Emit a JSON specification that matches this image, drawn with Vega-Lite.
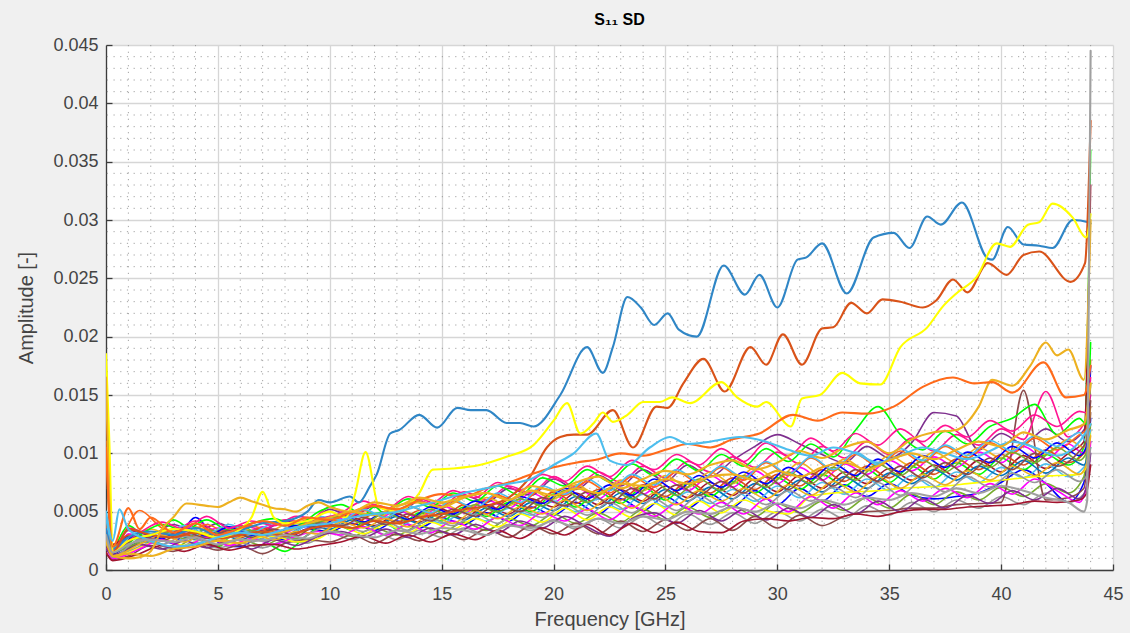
{
  "$schema": "https://vega.github.io/schema/vega-lite/v6.json",
  "width": 1007,
  "height": 525,
  "autosize": {"type": "none"},
  "padding": {"left": 106, "top": 45, "right": 17, "bottom": 63},
  "background": "#f0f0f0",
  "view": {"fill": "#ffffff", "stroke": null},
  "title": {"text": "S₁₁  SD", "font": "Liberation Sans", "fontSize": 16, "fontWeight": "bold", "color": "#000000", "anchor": "middle", "offset": 8, "dx": 10},
  "config": {
    "line": {"strokeCap": "round", "strokeJoin": "round"},
    "axis": {
      "grid": true, "gridColor": "#d6d6d6", "gridWidth": 1.3,
      "domainColor": "#3c3c3c", "domainWidth": 1.3,
      "tickColor": "#3c3c3c", "tickWidth": 1.3, "tickSize": -6,
      "labelFont": "Liberation Sans", "labelFontSize": 18, "labelColor": "#444444", "labelFlush": false,
      "titleFont": "Liberation Sans", "titleFontSize": 20, "titleFontWeight": "normal", "titleColor": "#444444"
    },
    "axisX": {"labelPadding": 21},
    "axisY": {"labelPadding": 14}
  },
  "datasets": {
    "minorFreq": [
      {"freq": 1}, {"freq": 2}, {"freq": 3}, {"freq": 4}, {"freq": 6}, {"freq": 7}, {"freq": 8}, {"freq": 9},
      {"freq": 11}, {"freq": 12}, {"freq": 13}, {"freq": 14}, {"freq": 16}, {"freq": 17}, {"freq": 18}, {"freq": 19},
      {"freq": 21}, {"freq": 22}, {"freq": 23}, {"freq": 24}, {"freq": 26}, {"freq": 27}, {"freq": 28}, {"freq": 29},
      {"freq": 31}, {"freq": 32}, {"freq": 33}, {"freq": 34}, {"freq": 36}, {"freq": 37}, {"freq": 38}, {"freq": 39},
      {"freq": 41}, {"freq": 42}, {"freq": 43}, {"freq": 44}
    ],
    "minorAmp": [
      {"amp": 0.001}, {"amp": 0.002}, {"amp": 0.003}, {"amp": 0.004}, {"amp": 0.006}, {"amp": 0.007}, {"amp": 0.008}, {"amp": 0.009},
      {"amp": 0.011}, {"amp": 0.012}, {"amp": 0.013}, {"amp": 0.014}, {"amp": 0.016}, {"amp": 0.017}, {"amp": 0.018}, {"amp": 0.019},
      {"amp": 0.021}, {"amp": 0.022}, {"amp": 0.023}, {"amp": 0.024}, {"amp": 0.026}, {"amp": 0.027}, {"amp": 0.028}, {"amp": 0.029},
      {"amp": 0.031}, {"amp": 0.032}, {"amp": 0.033}, {"amp": 0.034}, {"amp": 0.036}, {"amp": 0.037}, {"amp": 0.038}, {"amp": 0.039},
      {"amp": 0.041}, {"amp": 0.042}, {"amp": 0.043}, {"amp": 0.044}
    ],
    "bundle": [
      {"freq":0,"a":0.0022,"b":0.0183,"c":0.003,"d":0.0025,"e":0.002,"f":0.014,"g":0.0032,"h":0.0026,"i":0.0015,"j":0.003,"k":0.0025,"l":0.004,"m":0.011,"n":0.0036,"o":0.002,"p":0.0034,"q":0.003,"r":0.002,"s":0.0018,"t":0.0022,"u":0.0015,"v":0.0045,"w":0.0025,"x":0.0035,"y":0.0028,"z":0.002},
      {"freq":0.3,"a":0.0015,"b":0.002,"c":0.0012,"d":0.0018,"e":0.001,"f":0.0022,"g":0.0014,"h":0.0012,"i":0.0009,"j":0.0016,"k":0.0013,"l":0.0019,"m":0.0017,"n":0.0018,"o":0.0011,"p":0.0015,"q":0.0014,"r":0.001,"s":0.0013,"t":0.0016,"u":0.0008,"v":0.0019,"w":0.0011,"x":0.0017,"y":0.0012,"z":0.0015},
      {"freq":1,"a":0.002,"b":0.0038,"c":0.0031,"d":0.0034,"e":0.0018,"f":0.0029,"g":0.0021,"h":0.0016,"i":0.0012,"j":0.0036,"k":0.0026,"l":0.003,"m":0.0028},
      {"freq":1.5,"n":0.0051,"o":0.0019,"p":0.003,"q":0.0032,"r":0.0018,"s":0.0022,"t":0.0024,"u":0.0014,"v":0.0033,"w":0.0026,"x":0.0032,"y":0.0022,"z":0.0029},
      {"freq":2,"a":0.0028,"b":0.0024,"c":0.0027,"d":0.003,"e":0.0025,"f":0.0024,"g":0.003,"h":0.0023,"i":0.0021,"j":0.0031,"k":0.0035,"l":0.0025,"m":0.0024},
      {"freq":2.5,"n":0.0036,"o":0.0027,"p":0.0039,"q":0.0027,"r":0.0026,"s":0.0018,"t":0.0033,"u":0.0021,"v":0.0029,"w":0.0022,"x":0.0041,"y":0.003,"z":0.0025},
      {"freq":3,"a":0.0023,"b":0.0043,"c":0.0035,"d":0.0039,"e":0.0019,"f":0.0033,"g":0.0024,"h":0.0018,"i":0.0016,"j":0.0033,"k":0.0029,"l":0.0034,"m":0.0031},
      {"freq":3.5,"n":0.003,"o":0.0021,"p":0.0034,"q":0.0036,"r":0.002,"s":0.0025,"t":0.0027,"u":0.0016,"v":0.0038,"w":0.0029,"x":0.0035,"y":0.0024,"z":0.0033},
      {"freq":4,"a":0.0045,"b":0.003,"c":0.0029,"d":0.0032,"e":0.0027,"f":0.0027,"g":0.0031,"h":0.0024,"i":0.0022,"j":0.0042,"k":0.0037,"l":0.0028,"m":0.0026},
      {"freq":4.5,"n":0.0039,"o":0.0028,"p":0.0043,"q":0.0029,"r":0.0028,"s":0.0019,"t":0.0035,"u":0.0022,"v":0.0031,"w":0.0024,"x":0.0046,"y":0.0032,"z":0.0027},
      {"freq":5,"a":0.0024,"b":0.002,"c":0.0036,"d":0.004,"e":0.0021,"f":0.0033,"g":0.0025,"h":0.0019,"i":0.0017,"j":0.0033,"k":0.003,"l":0.0034,"m":0.0032},
      {"freq":5.5,"n":0.0031,"o":0.0022,"p":0.0034,"q":0.0037,"r":0.0021,"s":0.0025,"t":0.0028,"u":0.0017,"v":0.0039,"w":0.003,"x":0.0036,"y":0.0025,"z":0.0034},
      {"freq":6,"a":0.002,"b":0.0038,"c":0.003,"d":0.0033,"e":0.0026,"f":0.0028,"g":0.0031,"h":0.0023,"i":0.0021,"j":0.0038,"k":0.0036,"l":0.0029,"m":0.0026},
      {"freq":6.5,"n":0.0038,"o":0.0027,"p":0.004,"q":0.003,"r":0.0027,"s":0.0018,"t":0.0034,"u":0.0021,"v":0.0032,"w":0.0024,"x":0.0042,"y":0.0031,"z":0.0028},
      {"freq":7,"a":0.003,"b":0.0026,"c":0.0037,"d":0.0034,"e":0.0021,"f":0.0035,"g":0.0026,"h":0.0019,"i":0.0014,"j":0.0035,"k":0.0031,"l":0.0036,"m":0.0033},
      {"freq":7.5,"n":0.0032,"o":0.0029,"p":0.0044,"q":0.0031,"r":0.0022,"s":0.0026,"t":0.003,"u":0.0022,"v":0.004,"w":0.003,"x":0.0038,"y":0.0026,"z":0.0035},
      {"freq":8,"a":0.0026,"b":0.0016,"c":0.0032,"d":0.0042,"e":0.0028,"f":0.0029,"g":0.0033,"h":0.0025,"i":0.0023,"j":0.0043,"k":0.0039,"l":0.003,"m":0.0028},
      {"freq":8.5,"n":0.004,"o":0.0024,"p":0.0038,"q":0.0038,"r":0.0029,"s":0.0021,"t":0.0037,"u":0.0018,"v":0.0034,"w":0.0026,"x":0.0046,"y":0.0033,"z":0.0029},
      {"freq":9,"a":0.0035,"b":0.003,"c":0.0042,"d":0.004,"e":0.0026,"f":0.004,"g":0.0038,"h":0.0023,"i":0.0026,"j":0.0041,"k":0.0044,"l":0.0034,"m":0.0038},
      {"freq":9.5,"n":0.0045,"o":0.0027,"p":0.005,"q":0.0036,"r":0.0033,"s":0.0029,"t":0.0041,"u":0.0021,"v":0.0046,"w":0.0035,"x":0.0044,"y":0.0031,"z":0.004},
      {"freq":10,"a":0.0033,"b":0.0042,"c":0.004,"d":0.0052,"e":0.0035,"f":0.0037,"g":0.0042,"h":0.0032,"i":0.0024,"j":0.0054,"k":0.0041,"l":0.0046,"m":0.0035},
      {"freq":10.5,"n":0.0042,"o":0.0037,"p":0.0056,"q":0.0047,"r":0.003,"s":0.0033,"t":0.0046,"u":0.0024,"v":0.0043,"w":0.0039,"x":0.0049,"y":0.0041,"z":0.0038},
      {"freq":11,"a":0.004,"b":0.0034,"c":0.0048,"d":0.0046,"e":0.0029,"f":0.0045,"g":0.0035,"h":0.0026,"i":0.003,"j":0.0047,"k":0.005,"l":0.0039,"m":0.0043},
      {"freq":11.5,"n":0.0051,"o":0.0031,"p":0.0048,"q":0.0041,"r":0.0037,"s":0.0028,"t":0.004,"u":0.0029,"v":0.0052,"w":0.0033,"x":0.0059,"y":0.0036,"z":0.0045},
      {"freq":12,"a":0.0034,"b":0.0054,"c":0.0042,"d":0.0055,"e":0.0036,"f":0.0038,"g":0.0043,"h":0.0033,"i":0.0023,"j":0.0056,"k":0.0043,"l":0.0048,"m":0.0037},
      {"freq":12.5,"n":0.0045,"o":0.0039,"p":0.005,"q":0.005,"r":0.003,"s":0.0035,"t":0.0049,"u":0.0023,"v":0.0045,"w":0.0041,"x":0.0052,"y":0.0044,"z":0.0039},
      {"freq":13,"a":0.0042,"b":0.0035,"c":0.0051,"d":0.0048,"e":0.003,"f":0.0048,"g":0.0036,"h":0.0026,"i":0.0031,"j":0.005,"k":0.0053,"l":0.0041,"m":0.0046},
      {"freq":13.5,"n":0.0055,"o":0.0032,"p":0.0061,"q":0.0043,"r":0.0039,"s":0.0028,"t":0.0042,"u":0.003,"v":0.0055,"w":0.0034,"x":0.0063,"y":0.0037,"z":0.0048},
      {"freq":14,"a":0.0036,"b":0.0049,"c":0.0045,"d":0.0059,"e":0.0038,"f":0.0041,"g":0.0046,"h":0.0034,"i":0.0025,"j":0.0061,"k":0.0046,"l":0.0051,"m":0.004},
      {"freq":14.5,"n":0.0048,"o":0.0041,"p":0.0054,"q":0.0054,"r":0.0032,"s":0.0036,"t":0.0052,"u":0.0024,"v":0.0049,"w":0.0044,"x":0.0057,"y":0.0047,"z":0.0042},
      {"freq":15,"a":0.0045,"b":0.0042,"c":0.0055,"d":0.0053,"e":0.0032,"f":0.0052,"g":0.004,"h":0.0028,"i":0.0033,"j":0.0055,"k":0.0057,"l":0.0045,"m":0.0049},
      {"freq":15.5,"n":0.0059,"o":0.0035,"p":0.0066,"q":0.0048,"r":0.0042,"s":0.003,"t":0.0046,"u":0.0031,"v":0.006,"w":0.0038,"x":0.0068,"y":0.004,"z":0.0052},
      {"freq":16,"a":0.0039,"b":0.0054,"c":0.0049,"d":0.0064,"e":0.0041,"f":0.0044,"g":0.005,"h":0.0036,"i":0.0026,"j":0.0067,"k":0.005,"l":0.0056,"m":0.0043},
      {"freq":16.5,"n":0.0052,"o":0.0044,"p":0.0059,"q":0.0059,"r":0.0035,"s":0.0039,"t":0.0056,"u":0.0026,"v":0.0053,"w":0.0048,"x":0.0062,"y":0.0051,"z":0.0046},
      {"freq":17,"a":0.0049,"b":0.0046,"c":0.006,"d":0.0058,"e":0.0034,"f":0.0056,"g":0.0042,"h":0.003,"i":0.0035,"j":0.006,"k":0.0062,"l":0.0048,"m":0.0053},
      {"freq":17.5,"n":0.0064,"o":0.0037,"p":0.0072,"q":0.0052,"r":0.0045,"s":0.0032,"t":0.005,"u":0.0034,"v":0.0066,"w":0.004,"x":0.0075,"y":0.0044,"z":0.0057},
      {"freq":18,"a":0.0042,"b":0.0058,"c":0.0053,"d":0.007,"e":0.0044,"f":0.0048,"g":0.0053,"h":0.0039,"i":0.0028,"j":0.0072,"k":0.0055,"l":0.006,"m":0.0046},
      {"freq":18.5,"n":0.0057,"o":0.0048,"p":0.0064,"q":0.0063,"r":0.0038,"s":0.0042,"t":0.0061,"u":0.0027,"v":0.0058,"w":0.0051,"x":0.0068,"y":0.0054,"z":0.005},
      {"freq":19,"a":0.0054,"b":0.005,"c":0.0066,"d":0.0064,"e":0.0038,"f":0.0061,"g":0.0047,"h":0.0034,"i":0.0038,"j":0.0066,"k":0.0068,"l":0.0053,"m":0.0058},
      {"freq":19.5,"n":0.007,"o":0.0041,"p":0.0079,"q":0.0057,"r":0.0049,"s":0.0036,"t":0.0055,"u":0.0036,"v":0.0072,"w":0.0045,"x":0.0082,"y":0.0048,"z":0.0062},
      {"freq":20,"a":0.0047,"b":0.0065,"c":0.0058,"d":0.0078,"e":0.0048,"f":0.0054,"g":0.0059,"h":0.0043,"i":0.0031,"j":0.008,"k":0.0061,"l":0.0067,"m":0.0051},
      {"freq":20.5,"n":0.0064,"o":0.0053,"p":0.0072,"q":0.007,"r":0.0042,"s":0.0046,"t":0.0068,"u":0.003,"v":0.0065,"w":0.0056,"x":0.0076,"y":0.006,"z":0.0055},
      {"freq":21,"a":0.0058,"b":0.0054,"c":0.0071,"d":0.0069,"e":0.004,"f":0.0066,"g":0.005,"h":0.0035,"i":0.004,"j":0.0071,"k":0.0073,"l":0.0057,"m":0.0063},
      {"freq":21.5,"n":0.0076,"o":0.0043,"p":0.0086,"q":0.0061,"r":0.0052,"s":0.0037,"t":0.0058,"u":0.0039,"v":0.0078,"w":0.0047,"x":0.0089,"y":0.0051,"z":0.0067},
      {"freq":22,"a":0.0048,"b":0.0067,"c":0.0061,"d":0.0081,"e":0.0049,"f":0.0056,"g":0.0061,"h":0.0044,"i":0.0031,"j":0.0084,"k":0.0064,"l":0.0069,"m":0.0053},
      {"freq":22.5,"n":0.0066,"o":0.0054,"p":0.0076,"q":0.0073,"r":0.0043,"s":0.0029,"t":0.007,"u":0.003,"v":0.0068,"w":0.0058,"x":0.008,"y":0.0062,"z":0.0057},
      {"freq":23,"a":0.0061,"b":0.0057,"c":0.0075,"d":0.0072,"e":0.0041,"f":0.0069,"g":0.0052,"h":0.0036,"i":0.0042,"j":0.0075,"k":0.0077,"l":0.006,"m":0.0066},
      {"freq":23.5,"n":0.008,"o":0.0045,"p":0.0091,"q":0.0064,"r":0.0055,"s":0.0044,"t":0.0061,"u":0.004,"v":0.0082,"w":0.0049,"x":0.0094,"y":0.0053,"z":0.007},
      {"freq":24,"a":0.0051,"b":0.0071,"c":0.0065,"d":0.0086,"e":0.0052,"f":0.0059,"g":0.0065,"h":0.0046,"i":0.0033,"j":0.0089,"k":0.0068,"l":0.0073,"m":0.0057},
      {"freq":24.5,"n":0.0071,"o":0.0057,"p":0.0081,"q":0.0078,"r":0.0046,"s":0.0049,"t":0.0075,"u":0.0032,"v":0.0073,"w":0.0061,"x":0.0086,"y":0.0066,"z":0.0061},
      {"freq":25,"a":0.0063,"b":0.006,"c":0.0078,"d":0.0076,"e":0.0043,"f":0.0072,"g":0.0054,"h":0.0037,"i":0.0043,"j":0.0079,"k":0.0081,"l":0.0063,"m":0.0069},
      {"freq":25.5,"n":0.0084,"o":0.0047,"p":0.0095,"q":0.0068,"r":0.0057,"s":0.004,"t":0.0064,"u":0.0041,"v":0.0086,"w":0.0051,"x":0.0099,"y":0.0056,"z":0.0073},
      {"freq":26,"a":0.0053,"b":0.0074,"c":0.0068,"d":0.009,"e":0.0054,"f":0.0062,"g":0.0067,"h":0.0048,"i":0.0034,"j":0.0093,"k":0.0071,"l":0.0076,"m":0.0059},
      {"freq":26.5,"n":0.0075,"o":0.0059,"p":0.0085,"q":0.0081,"r":0.0048,"s":0.0051,"t":0.0078,"u":0.0033,"v":0.0076,"w":0.0064,"x":0.009,"y":0.0068,"z":0.0064},
      {"freq":27,"a":0.0065,"b":0.0063,"c":0.0081,"d":0.008,"e":0.0045,"f":0.0075,"g":0.0057,"h":0.0039,"i":0.0044,"j":0.0084,"k":0.0084,"l":0.0066,"m":0.0071},
      {"freq":27.5,"n":0.0088,"o":0.0049,"p":0.0099,"q":0.0071,"r":0.0058,"s":0.0042,"t":0.0068,"u":0.0032,"v":0.0089,"w":0.0054,"x":0.0104,"y":0.0059,"z":0.0076},
      {"freq":28,"a":0.0054,"b":0.0076,"c":0.0071,"d":0.0094,"e":0.0055,"f":0.0064,"g":0.0069,"h":0.0049,"i":0.0034,"j":0.0097,"k":0.0074,"l":0.0079,"m":0.0061},
      {"freq":28.5,"n":0.0077,"o":0.006,"p":0.0089,"q":0.0084,"r":0.0048,"s":0.0052,"t":0.0081,"u":0.0042,"v":0.0079,"w":0.0066,"x":0.0093,"y":0.007,"z":0.0066},
      {"freq":29,"a":0.0068,"b":0.0066,"c":0.0085,"d":0.0106,"e":0.0046,"f":0.0078,"g":0.0059,"h":0.004,"i":0.0046,"j":0.0088,"k":0.0088,"l":0.0069,"m":0.0074},
      {"freq":29.5,"n":0.0092,"o":0.0051,"p":0.0104,"q":0.0074,"r":0.0061,"s":0.0043,"t":0.0071,"u":0.0044,"v":0.0093,"w":0.0056,"x":0.0109,"y":0.0061,"z":0.008},
      {"freq":30,"a":0.0056,"b":0.0079,"c":0.0074,"d":0.0116,"e":0.0057,"f":0.0067,"g":0.0072,"h":0.005,"i":0.0036,"j":0.0101,"k":0.0078,"l":0.0082,"m":0.0064},
      {"freq":30.5,"n":0.0081,"o":0.0048,"p":0.0093,"q":0.0088,"r":0.005,"s":0.0053,"t":0.0084,"u":0.0042,"v":0.0082,"w":0.0068,"x":0.0098,"y":0.0073,"z":0.0069},
      {"freq":31,"a":0.007,"b":0.0069,"c":0.0088,"d":0.0108,"e":0.0049,"f":0.0081,"g":0.0062,"h":0.0042,"i":0.0047,"j":0.0091,"k":0.0092,"l":0.0072,"m":0.0077},
      {"freq":31.5,"n":0.0096,"o":0.0063,"p":0.0108,"q":0.0078,"r":0.0063,"s":0.0045,"t":0.0074,"u":0.0045,"v":0.0097,"w":0.0059,"x":0.0113,"y":0.0064,"z":0.0083},
      {"freq":32,"a":0.0059,"b":0.0082,"c":0.0077,"d":0.0099,"e":0.0059,"f":0.007,"g":0.0075,"h":0.0052,"i":0.0038,"j":0.0106,"k":0.0081,"l":0.0086,"m":0.0067},
      {"freq":32.5,"n":0.0085,"o":0.0066,"p":0.0097,"q":0.0091,"r":0.0053,"s":0.0056,"t":0.0088,"u":0.0044,"v":0.0086,"w":0.0071,"x":0.0102,"y":0.0076,"z":0.0072},
      {"freq":33,"a":0.0073,"b":0.0072,"c":0.0091,"d":0.0092,"e":0.0051,"f":0.0084,"g":0.0065,"h":0.0044,"i":0.0046,"j":0.0096,"k":0.0095,"l":0.0076,"m":0.008},
      {"freq":33.5,"n":0.0099,"o":0.0067,"p":0.012,"q":0.0081,"r":0.0066,"s":0.0048,"t":0.0077,"u":0.0048,"v":0.0101,"w":0.0062,"x":0.0117,"y":0.0067,"z":0.0086},
      {"freq":34,"a":0.0063,"b":0.0086,"c":0.0082,"d":0.0106,"e":0.0062,"f":0.0074,"g":0.0078,"h":0.0055,"i":0.005,"j":0.011,"k":0.0085,"l":0.0089,"m":0.007},
      {"freq":34.5,"n":0.0089,"o":0.0068,"p":0.014,"q":0.0095,"r":0.0056,"s":0.0059,"t":0.0091,"u":0.0046,"v":0.009,"w":0.0075,"x":0.0107,"y":0.008,"z":0.0076},
      {"freq":35,"a":0.0074,"b":0.0075,"c":0.0094,"d":0.0096,"e":0.0053,"f":0.0087,"g":0.0068,"h":0.0047,"i":0.0051,"j":0.0099,"k":0.0098,"l":0.0079,"m":0.0083},
      {"freq":35.5,"n":0.0102,"o":0.007,"p":0.0116,"q":0.0084,"r":0.0068,"s":0.005,"t":0.0081,"u":0.005,"v":0.0104,"w":0.0064,"x":0.0121,"y":0.007,"z":0.0089},
      {"freq":36,"a":0.0064,"b":0.0089,"c":0.0085,"d":0.0109,"e":0.0065,"f":0.0077,"g":0.0081,"h":0.0058,"i":0.0053,"j":0.0113,"k":0.0089,"l":0.0092,"m":0.0074},
      {"freq":36.5,"n":0.0092,"o":0.0071,"p":0.0103,"q":0.0098,"r":0.0059,"s":0.0061,"t":0.0094,"u":0.0052,"v":0.0094,"w":0.0077,"x":0.011,"y":0.0082,"z":0.0079},
      {"freq":37,"a":0.0061,"b":0.0078,"c":0.0097,"d":0.0135,"e":0.0056,"f":0.009,"g":0.0071,"h":0.005,"i":0.0053,"j":0.0102,"k":0.0101,"l":0.0082,"m":0.0086},
      {"freq":37.5,"n":0.0106,"o":0.0072,"p":0.0119,"q":0.0088,"r":0.007,"s":0.0053,"t":0.0084,"u":0.0052,"v":0.0107,"w":0.0067,"x":0.0124,"y":0.0073,"z":0.0092},
      {"freq":38,"a":0.0063,"b":0.0092,"c":0.0088,"d":0.0132,"e":0.0067,"f":0.008,"g":0.0084,"h":0.006,"i":0.0056,"j":0.0116,"k":0.0092,"l":0.0095,"m":0.0077},
      {"freq":38.5,"n":0.0096,"o":0.0074,"p":0.0108,"q":0.0101,"r":0.0062,"s":0.0064,"t":0.0096,"u":0.0054,"v":0.0098,"w":0.008,"x":0.0114,"y":0.0085,"z":0.0082},
      {"freq":39,"a":0.0066,"b":0.0082,"c":0.0101,"d":0.0103,"e":0.006,"f":0.0094,"g":0.0075,"h":0.0053,"i":0.0057,"j":0.0107,"k":0.0105,"l":0.0086,"m":0.0089},
      {"freq":39.5,"n":0.0109,"o":0.0076,"p":0.0123,"q":0.0092,"r":0.0074,"s":0.0057,"t":0.0088,"u":0.0055,"v":0.0111,"w":0.0071,"x":0.0128,"y":0.0077,"z":0.0096},
      {"freq":40,"a":0.0075,"b":0.0096,"c":0.0092,"d":0.0117,"e":0.0071,"f":0.0084,"g":0.0088,"h":0.0063,"i":0.0058,"j":0.0121,"k":0.0096,"l":0.0099,"m":0.0081},
      {"freq":40.5,"n":0.01,"o":0.0078,"p":0.013,"q":0.0106,"r":0.0065,"s":0.0068,"t":0.0101,"u":0.0056,"v":0.0102,"w":0.0083,"x":0.0119,"y":0.0089,"z":0.0086},
      {"freq":41,"a":0.0086,"b":0.0086,"c":0.0106,"d":0.0108,"e":0.0063,"f":0.0098,"g":0.0079,"h":0.0056,"i":0.0154,"j":0.0112,"k":0.0109,"l":0.009,"m":0.0094},
      {"freq":41.5,"n":0.0113,"o":0.008,"p":0.0142,"q":0.0096,"r":0.0078,"s":0.006,"t":0.0092,"u":0.0059,"v":0.0115,"w":0.0075,"x":0.0133,"y":0.0081,"z":0.01},
      {"freq":42,"a":0.0074,"b":0.0099,"c":0.0095,"d":0.0121,"e":0.0074,"f":0.0087,"g":0.0091,"h":0.0066,"i":0.006,"j":0.0153,"k":0.0099,"l":0.0103,"m":0.0083},
      {"freq":42.5,"n":0.0103,"o":0.0081,"p":0.0116,"q":0.0109,"r":0.0068,"s":0.007,"t":0.0105,"u":0.0058,"v":0.0106,"w":0.0086,"x":0.0123,"y":0.0092,"z":0.0089},
      {"freq":43,"a":0.0058,"b":0.009,"c":0.0108,"d":0.011,"e":0.0066,"f":0.01,"g":0.008,"h":0.0058,"i":0.0062,"j":0.0114,"k":0.0112,"l":0.0092,"m":0.0096},
      {"freq":43.5,"n":0.0116,"o":0.0082,"p":0.013,"q":0.0098,"r":0.0058,"s":0.0061,"t":0.0094,"u":0.006,"v":0.0118,"w":0.0076,"x":0.0136,"y":0.0082,"z":0.0102},
      {"freq":43.7,"a":0.0075,"b":0.0105,"c":0.01,"d":0.012,"e":0.008,"f":0.011,"g":0.0088,"h":0.0065,"i":0.007,"j":0.0125,"k":0.0105,"l":0.01,"m":0.009},
      {"freq":43.8,"n":0.012,"o":0.0088,"p":0.0125,"q":0.0105,"r":0.007,"s":0.007,"t":0.01,"u":0.0065,"v":0.011,"w":0.008,"x":0.0135,"y":0.009,"z":0.011},
      {"freq":44,"a":0.013,"b":0.036,"c":0.012,"d":0.014,"e":0.016,"f":0.033,"g":0.0105,"h":0.009,"i":0.0135,"j":0.015,"k":0.014,"l":0.0125,"m":0.011,"n":0.018,"o":0.012,"p":0.0195,"q":0.0175,"r":0.011,"s":0.01,"t":0.0125,"u":0.009,"v":0.012,"w":0.0105,"x":0.0165,"y":0.0115,"z":0.0145}
    ],
    "main": [
      {"line":"A","freq":0,"amp":0.0035},{"line":"A","freq":0.3,"amp":0.0018},{"line":"A","freq":1,"amp":0.0028},{"line":"A","freq":2,"amp":0.0033},{"line":"A","freq":3,"amp":0.003},{"line":"A","freq":4,"amp":0.0036},{"line":"A","freq":5,"amp":0.003},{"line":"A","freq":6,"amp":0.0034},{"line":"A","freq":7,"amp":0.004},{"line":"A","freq":8,"amp":0.0042},{"line":"A","freq":9,"amp":0.005},{"line":"A","freq":9.5,"amp":0.006},{"line":"A","freq":10,"amp":0.0058},{"line":"A","freq":10.9,"amp":0.0063},{"line":"A","freq":11.3,"amp":0.0058},{"line":"A","freq":11.8,"amp":0.0072},{"line":"A","freq":12.1,"amp":0.0082},{"line":"A","freq":12.7,"amp":0.0117},{"line":"A","freq":13.1,"amp":0.012},{"line":"A","freq":14,"amp":0.0133},{"line":"A","freq":14.8,"amp":0.0122},{"line":"A","freq":15.7,"amp":0.0139},{"line":"A","freq":16.3,"amp":0.0137},{"line":"A","freq":17,"amp":0.0137},{"line":"A","freq":17.9,"amp":0.0126},{"line":"A","freq":18.5,"amp":0.0126},{"line":"A","freq":19.1,"amp":0.0123},{"line":"A","freq":20.3,"amp":0.015},{"line":"A","freq":21.5,"amp":0.0191},{"line":"A","freq":22.2,"amp":0.0169},{"line":"A","freq":22.65,"amp":0.0191},{"line":"A","freq":23.3,"amp":0.0234},{"line":"A","freq":23.9,"amp":0.0225},{"line":"A","freq":24.5,"amp":0.021},{"line":"A","freq":25.1,"amp":0.022},{"line":"A","freq":25.6,"amp":0.0206},{"line":"A","freq":26.4,"amp":0.02},{"line":"A","freq":27.6,"amp":0.0261},{"line":"A","freq":28.55,"amp":0.0236},{"line":"A","freq":29.2,"amp":0.0253},{"line":"A","freq":30,"amp":0.0225},{"line":"A","freq":30.9,"amp":0.0266},{"line":"A","freq":31.3,"amp":0.0268},{"line":"A","freq":32,"amp":0.028},{"line":"A","freq":33.1,"amp":0.0237},{"line":"A","freq":34.3,"amp":0.0285},{"line":"A","freq":35.2,"amp":0.0289},{"line":"A","freq":35.9,"amp":0.0276},{"line":"A","freq":36.7,"amp":0.0303},{"line":"A","freq":37.3,"amp":0.0296},{"line":"A","freq":38.25,"amp":0.0315},{"line":"A","freq":39.4,"amp":0.0267},{"line":"A","freq":39.6,"amp":0.0266},{"line":"A","freq":40.3,"amp":0.0294},{"line":"A","freq":41,"amp":0.0279},{"line":"A","freq":41.7,"amp":0.0278},{"line":"A","freq":42.3,"amp":0.0276},{"line":"A","freq":43.2,"amp":0.03},{"line":"A","freq":43.9,"amp":0.0298},{"line":"A","freq":44,"amp":0.0297},
      {"line":"B","freq":0,"amp":0.011},{"line":"B","freq":0.3,"amp":0.0015},{"line":"B","freq":1,"amp":0.0035},{"line":"B","freq":2,"amp":0.003},{"line":"B","freq":3,"amp":0.0028},{"line":"B","freq":4,"amp":0.0032},{"line":"B","freq":5,"amp":0.0027},{"line":"B","freq":6,"amp":0.003},{"line":"B","freq":7,"amp":0.0033},{"line":"B","freq":8,"amp":0.0029},{"line":"B","freq":9,"amp":0.0035},{"line":"B","freq":10,"amp":0.0038},{"line":"B","freq":11,"amp":0.0036},{"line":"B","freq":12,"amp":0.0042},{"line":"B","freq":13,"amp":0.004},{"line":"B","freq":14,"amp":0.0045},{"line":"B","freq":15,"amp":0.0048},{"line":"B","freq":16,"amp":0.0052},{"line":"B","freq":17,"amp":0.0055},{"line":"B","freq":18,"amp":0.0062},{"line":"B","freq":18.95,"amp":0.008},{"line":"B","freq":19.7,"amp":0.0105},{"line":"B","freq":20.3,"amp":0.0114},{"line":"B","freq":20.9,"amp":0.0116},{"line":"B","freq":21.5,"amp":0.0116},{"line":"B","freq":22.65,"amp":0.0137},{"line":"B","freq":23.55,"amp":0.0105},{"line":"B","freq":24.6,"amp":0.014},{"line":"B","freq":25.1,"amp":0.0139},{"line":"B","freq":25.8,"amp":0.016},{"line":"B","freq":26.7,"amp":0.0181},{"line":"B","freq":27.65,"amp":0.0153},{"line":"B","freq":28.8,"amp":0.0191},{"line":"B","freq":29.5,"amp":0.0176},{"line":"B","freq":30.25,"amp":0.0202},{"line":"B","freq":31.1,"amp":0.0176},{"line":"B","freq":32,"amp":0.0207},{"line":"B","freq":32.5,"amp":0.0208},{"line":"B","freq":33.3,"amp":0.0229},{"line":"B","freq":34,"amp":0.022},{"line":"B","freq":34.7,"amp":0.0232},{"line":"B","freq":35.5,"amp":0.023},{"line":"B","freq":36.5,"amp":0.0225},{"line":"B","freq":37.1,"amp":0.0231},{"line":"B","freq":37.85,"amp":0.0249},{"line":"B","freq":38.5,"amp":0.0238},{"line":"B","freq":39.4,"amp":0.0263},{"line":"B","freq":40.25,"amp":0.0253},{"line":"B","freq":41,"amp":0.027},{"line":"B","freq":41.7,"amp":0.0273},{"line":"B","freq":43.1,"amp":0.0247},{"line":"B","freq":43.75,"amp":0.0263},{"line":"B","freq":44,"amp":0.0385},
      {"line":"C","freq":0,"amp":0.0185},{"line":"C","freq":0.15,"amp":0.011},{"line":"C","freq":0.3,"amp":0.0015},{"line":"C","freq":1,"amp":0.0025},{"line":"C","freq":2,"amp":0.003},{"line":"C","freq":3,"amp":0.0035},{"line":"C","freq":4,"amp":0.0033},{"line":"C","freq":5,"amp":0.0028},{"line":"C","freq":6,"amp":0.0035},{"line":"C","freq":6.5,"amp":0.0045},{"line":"C","freq":7,"amp":0.0067},{"line":"C","freq":7.5,"amp":0.0045},{"line":"C","freq":8,"amp":0.004},{"line":"C","freq":9,"amp":0.0042},{"line":"C","freq":10,"amp":0.005},{"line":"C","freq":10.7,"amp":0.0045},{"line":"C","freq":11.1,"amp":0.0063},{"line":"C","freq":11.6,"amp":0.0101},{"line":"C","freq":12.2,"amp":0.0054},{"line":"C","freq":13,"amp":0.005},{"line":"C","freq":14,"amp":0.0066},{"line":"C","freq":14.6,"amp":0.0086},{"line":"C","freq":15.5,"amp":0.0087},{"line":"C","freq":16.7,"amp":0.009},{"line":"C","freq":17.9,"amp":0.0097},{"line":"C","freq":19.1,"amp":0.0107},{"line":"C","freq":20,"amp":0.0128},{"line":"C","freq":20.6,"amp":0.0143},{"line":"C","freq":21.2,"amp":0.0117},{"line":"C","freq":21.8,"amp":0.0126},{"line":"C","freq":22.2,"amp":0.0135},{"line":"C","freq":22.65,"amp":0.0127},{"line":"C","freq":23.3,"amp":0.0133},{"line":"C","freq":24,"amp":0.0144},{"line":"C","freq":24.75,"amp":0.0144},{"line":"C","freq":25.3,"amp":0.0148},{"line":"C","freq":26.1,"amp":0.0143},{"line":"C","freq":27.5,"amp":0.0161},{"line":"C","freq":28.2,"amp":0.0148},{"line":"C","freq":29.1,"amp":0.014},{"line":"C","freq":29.5,"amp":0.0144},{"line":"C","freq":30.6,"amp":0.0123},{"line":"C","freq":31.1,"amp":0.0147},{"line":"C","freq":31.9,"amp":0.015},{"line":"C","freq":32.9,"amp":0.0169},{"line":"C","freq":33.7,"amp":0.016},{"line":"C","freq":34.6,"amp":0.0159},{"line":"C","freq":35.5,"amp":0.0191},{"line":"C","freq":36.7,"amp":0.0208},{"line":"C","freq":37.4,"amp":0.0226},{"line":"C","freq":38,"amp":0.0237},{"line":"C","freq":38.9,"amp":0.0251},{"line":"C","freq":39.8,"amp":0.028},{"line":"C","freq":40.4,"amp":0.0277},{"line":"C","freq":41.2,"amp":0.0296},{"line":"C","freq":41.7,"amp":0.0298},{"line":"C","freq":42.3,"amp":0.0314},{"line":"C","freq":43.2,"amp":0.0302},{"line":"C","freq":43.8,"amp":0.0285},{"line":"C","freq":44,"amp":0.0305},
      {"line":"D","freq":0,"amp":0.0165},{"line":"D","freq":0.3,"amp":0.0012},{"line":"D","freq":1,"amp":0.0014},{"line":"D","freq":2,"amp":0.0012},{"line":"D","freq":3,"amp":0.0018},{"line":"D","freq":4,"amp":0.002},{"line":"D","freq":5,"amp":0.0025},{"line":"D","freq":6,"amp":0.0023},{"line":"D","freq":7,"amp":0.003},{"line":"D","freq":8,"amp":0.0033},{"line":"D","freq":9,"amp":0.004},{"line":"D","freq":10,"amp":0.0045},{"line":"D","freq":11,"amp":0.005},{"line":"D","freq":12,"amp":0.0047},{"line":"D","freq":13,"amp":0.0055},{"line":"D","freq":14,"amp":0.0058},{"line":"D","freq":15,"amp":0.0054},{"line":"D","freq":16,"amp":0.0062},{"line":"D","freq":17,"amp":0.0066},{"line":"D","freq":18,"amp":0.006},{"line":"D","freq":19,"amp":0.0072},{"line":"D","freq":20,"amp":0.0068},{"line":"D","freq":21,"amp":0.0075},{"line":"D","freq":22,"amp":0.008},{"line":"D","freq":23,"amp":0.007},{"line":"D","freq":24,"amp":0.0078},{"line":"D","freq":25,"amp":0.0085},{"line":"D","freq":26,"amp":0.0082},{"line":"D","freq":27,"amp":0.009},{"line":"D","freq":28,"amp":0.0094},{"line":"D","freq":29,"amp":0.0086},{"line":"D","freq":30,"amp":0.0092},{"line":"D","freq":31,"amp":0.0102},{"line":"D","freq":32,"amp":0.0096},{"line":"D","freq":33,"amp":0.0105},{"line":"D","freq":34,"amp":0.011},{"line":"D","freq":35,"amp":0.01},{"line":"D","freq":36,"amp":0.0112},{"line":"D","freq":37,"amp":0.0118},{"line":"D","freq":38,"amp":0.012},{"line":"D","freq":39,"amp":0.014},{"line":"D","freq":39.6,"amp":0.0163},{"line":"D","freq":40.5,"amp":0.0158},{"line":"D","freq":41.3,"amp":0.0175},{"line":"D","freq":42,"amp":0.0195},{"line":"D","freq":42.5,"amp":0.0184},{"line":"D","freq":43,"amp":0.0189},{"line":"D","freq":43.7,"amp":0.0163},{"line":"D","freq":44,"amp":0.03},
      {"line":"E","freq":0,"amp":0.0105},{"line":"E","freq":0.3,"amp":0.002},{"line":"E","freq":1,"amp":0.0053},{"line":"E","freq":1.5,"amp":0.0035},{"line":"E","freq":2,"amp":0.0045},{"line":"E","freq":3,"amp":0.0032},{"line":"E","freq":4,"amp":0.004},{"line":"E","freq":5,"amp":0.003},{"line":"E","freq":6,"amp":0.0036},{"line":"E","freq":7,"amp":0.0042},{"line":"E","freq":8,"amp":0.0038},{"line":"E","freq":9,"amp":0.0045},{"line":"E","freq":10,"amp":0.0043},{"line":"E","freq":11,"amp":0.005},{"line":"E","freq":12,"amp":0.0055},{"line":"E","freq":13,"amp":0.0052},{"line":"E","freq":14,"amp":0.006},{"line":"E","freq":15,"amp":0.0065},{"line":"E","freq":16,"amp":0.0063},{"line":"E","freq":17,"amp":0.007},{"line":"E","freq":18,"amp":0.0075},{"line":"E","freq":19,"amp":0.0082},{"line":"E","freq":20,"amp":0.0088},{"line":"E","freq":21,"amp":0.0092},{"line":"E","freq":22,"amp":0.0095},{"line":"E","freq":23,"amp":0.01},{"line":"E","freq":24,"amp":0.0098},{"line":"E","freq":25,"amp":0.0103},{"line":"E","freq":26,"amp":0.0108},{"line":"E","freq":27,"amp":0.0105},{"line":"E","freq":28,"amp":0.0112},{"line":"E","freq":29.2,"amp":0.0117},{"line":"E","freq":30.7,"amp":0.0133},{"line":"E","freq":31.8,"amp":0.0128},{"line":"E","freq":32.9,"amp":0.0135},{"line":"E","freq":34,"amp":0.0134},{"line":"E","freq":35.2,"amp":0.014},{"line":"E","freq":36.5,"amp":0.0157},{"line":"E","freq":37.85,"amp":0.0165},{"line":"E","freq":38.8,"amp":0.016},{"line":"E","freq":39.6,"amp":0.0161},{"line":"E","freq":40.5,"amp":0.0152},{"line":"E","freq":41.9,"amp":0.0178},{"line":"E","freq":42.9,"amp":0.0148},{"line":"E","freq":43.7,"amp":0.015},{"line":"E","freq":44,"amp":0.0175},
      {"line":"F","freq":0,"amp":0.005},{"line":"F","freq":0.3,"amp":0.0025},{"line":"F","freq":0.6,"amp":0.0052},{"line":"F","freq":1,"amp":0.0035},{"line":"F","freq":2,"amp":0.0025},{"line":"F","freq":3,"amp":0.002},{"line":"F","freq":4,"amp":0.0022},{"line":"F","freq":5,"amp":0.0028},{"line":"F","freq":6,"amp":0.0032},{"line":"F","freq":7,"amp":0.003},{"line":"F","freq":8,"amp":0.0035},{"line":"F","freq":9,"amp":0.0038},{"line":"F","freq":10,"amp":0.004},{"line":"F","freq":11,"amp":0.0045},{"line":"F","freq":12,"amp":0.0048},{"line":"F","freq":13,"amp":0.005},{"line":"F","freq":14,"amp":0.0055},{"line":"F","freq":15,"amp":0.006},{"line":"F","freq":16,"amp":0.0066},{"line":"F","freq":17,"amp":0.007},{"line":"F","freq":18,"amp":0.0074},{"line":"F","freq":19,"amp":0.0078},{"line":"F","freq":20,"amp":0.009},{"line":"F","freq":20.9,"amp":0.01},{"line":"F","freq":21.9,"amp":0.0117},{"line":"F","freq":22.5,"amp":0.0094},{"line":"F","freq":23.3,"amp":0.009},{"line":"F","freq":24.3,"amp":0.0105},{"line":"F","freq":25.2,"amp":0.0114},{"line":"F","freq":26,"amp":0.0108},{"line":"F","freq":27,"amp":0.011},{"line":"F","freq":28.3,"amp":0.0114},{"line":"F","freq":29.5,"amp":0.011},{"line":"F","freq":30.5,"amp":0.0103},{"line":"F","freq":31.5,"amp":0.0098},{"line":"F","freq":32.5,"amp":0.0105},{"line":"F","freq":33.5,"amp":0.01},{"line":"F","freq":34.5,"amp":0.0092},{"line":"F","freq":35.5,"amp":0.0098},{"line":"F","freq":36.5,"amp":0.0105},{"line":"F","freq":37.5,"amp":0.01},{"line":"F","freq":38.5,"amp":0.0095},{"line":"F","freq":39.5,"amp":0.0102},{"line":"F","freq":40.5,"amp":0.011},{"line":"F","freq":41.5,"amp":0.0105},{"line":"F","freq":42.5,"amp":0.0098},{"line":"F","freq":43.5,"amp":0.011},{"line":"F","freq":44,"amp":0.0125},
      {"line":"G","freq":0,"amp":0.0025},{"line":"G","freq":0.3,"amp":0.0012},{"line":"G","freq":1,"amp":0.001},{"line":"G","freq":1.5,"amp":0.0011},{"line":"G","freq":2,"amp":0.0016},{"line":"G","freq":2.5,"amp":0.0035},{"line":"G","freq":3,"amp":0.0045},{"line":"G","freq":3.6,"amp":0.0057},{"line":"G","freq":4.5,"amp":0.0055},{"line":"G","freq":5,"amp":0.0054},{"line":"G","freq":5.5,"amp":0.0058},{"line":"G","freq":6,"amp":0.0062},{"line":"G","freq":6.5,"amp":0.0059},{"line":"G","freq":7,"amp":0.0056},{"line":"G","freq":7.5,"amp":0.0053},{"line":"G","freq":8,"amp":0.0052},{"line":"G","freq":8.5,"amp":0.005},{"line":"G","freq":9,"amp":0.0055},{"line":"G","freq":9.5,"amp":0.0058},{"line":"G","freq":10,"amp":0.0054},{"line":"G","freq":11,"amp":0.005},{"line":"G","freq":12,"amp":0.0058},{"line":"G","freq":13,"amp":0.0055},{"line":"G","freq":14,"amp":0.0062},{"line":"G","freq":15,"amp":0.0058},{"line":"G","freq":16,"amp":0.0063},{"line":"G","freq":17,"amp":0.0066},{"line":"G","freq":18,"amp":0.006},{"line":"G","freq":19,"amp":0.0068},{"line":"G","freq":20,"amp":0.0064},{"line":"G","freq":21,"amp":0.007},{"line":"G","freq":22,"amp":0.0066},{"line":"G","freq":23,"amp":0.0074},{"line":"G","freq":24,"amp":0.0072},{"line":"G","freq":25,"amp":0.0078},{"line":"G","freq":26,"amp":0.0074},{"line":"G","freq":27,"amp":0.008},{"line":"G","freq":28,"amp":0.0082},{"line":"G","freq":29,"amp":0.0077},{"line":"G","freq":30,"amp":0.0085},{"line":"G","freq":31,"amp":0.008},{"line":"G","freq":32,"amp":0.0088},{"line":"G","freq":33,"amp":0.0092},{"line":"G","freq":34,"amp":0.0086},{"line":"G","freq":35,"amp":0.0094},{"line":"G","freq":36,"amp":0.01},{"line":"G","freq":37,"amp":0.0095},{"line":"G","freq":38,"amp":0.0103},{"line":"G","freq":39,"amp":0.011},{"line":"G","freq":40,"amp":0.0106},{"line":"G","freq":41,"amp":0.0118},{"line":"G","freq":42,"amp":0.0112},{"line":"G","freq":43,"amp":0.012},{"line":"G","freq":43.7,"amp":0.0125},{"line":"G","freq":44,"amp":0.016},
      {"line":"H","freq":0,"amp":0.003},{"line":"H","freq":0.3,"amp":0.0015},{"line":"H","freq":1,"amp":0.0022},{"line":"H","freq":2,"amp":0.0026},{"line":"H","freq":3,"amp":0.0024},{"line":"H","freq":4,"amp":0.0028},{"line":"H","freq":5,"amp":0.0022},{"line":"H","freq":6,"amp":0.0026},{"line":"H","freq":7,"amp":0.0025},{"line":"H","freq":8,"amp":0.003},{"line":"H","freq":9,"amp":0.0027},{"line":"H","freq":10,"amp":0.0033},{"line":"H","freq":11,"amp":0.003},{"line":"H","freq":12,"amp":0.0028},{"line":"H","freq":13,"amp":0.0034},{"line":"H","freq":14,"amp":0.0031},{"line":"H","freq":15,"amp":0.0036},{"line":"H","freq":16,"amp":0.0034},{"line":"H","freq":17,"amp":0.003},{"line":"H","freq":18,"amp":0.0038},{"line":"H","freq":19,"amp":0.0036},{"line":"H","freq":20,"amp":0.0042},{"line":"H","freq":21,"amp":0.0037},{"line":"H","freq":22,"amp":0.0044},{"line":"H","freq":23,"amp":0.004},{"line":"H","freq":24,"amp":0.0046},{"line":"H","freq":25,"amp":0.0043},{"line":"H","freq":26,"amp":0.005},{"line":"H","freq":27,"amp":0.0048},{"line":"H","freq":28,"amp":0.0054},{"line":"H","freq":29,"amp":0.005},{"line":"H","freq":30,"amp":0.0057},{"line":"H","freq":31,"amp":0.0053},{"line":"H","freq":32,"amp":0.006},{"line":"H","freq":33,"amp":0.0056},{"line":"H","freq":34,"amp":0.0062},{"line":"H","freq":35,"amp":0.006},{"line":"H","freq":36,"amp":0.0066},{"line":"H","freq":37,"amp":0.0063},{"line":"H","freq":38,"amp":0.007},{"line":"H","freq":39,"amp":0.0066},{"line":"H","freq":40,"amp":0.0072},{"line":"H","freq":41,"amp":0.0068},{"line":"H","freq":42,"amp":0.0062},{"line":"H","freq":43,"amp":0.0058},{"line":"H","freq":43.7,"amp":0.005},{"line":"H","freq":43.85,"amp":0.006},{"line":"H","freq":44,"amp":0.0445}
    ]
  },
  "layer": [
    {
      "data": {"name": "minorFreq"},
      "mark": {"type": "rule", "stroke": "#8c8c8c", "strokeWidth": 1, "strokeDash": [1.2, 5.5], "opacity": 0.8},
      "encoding": {
        "x": {
          "field": "freq", "type": "quantitative",
          "scale": {"domain": [0, 45], "nice": false, "zero": false},
          "axis": {"values": [0, 5, 10, 15, 20, 25, 30, 35, 40, 45], "format": "d", "title": "Frequency [GHz]", "titlePadding": 6}
        }
      }
    },
    {
      "data": {"name": "minorAmp"},
      "mark": {"type": "rule", "stroke": "#8c8c8c", "strokeWidth": 1, "strokeDash": [1.2, 5.5], "opacity": 0.8},
      "encoding": {
        "y": {
          "field": "amp", "type": "quantitative",
          "scale": {"domain": [0, 0.045], "nice": false, "zero": false},
          "axis": {"values": [0, 0.005, 0.01, 0.015, 0.02, 0.025, 0.03, 0.035, 0.04, 0.045], "format": "~g", "title": "Amplitude [-]", "titlePadding": 16}
        }
      }
    },
    {
      "data": {"name": "bundle"},
      "transform": [
        {"fold": ["a","b","c","d","e","f","g","h","i","j","k","l","m","n","o","p","q","r","s","t","u","v","w","x","y","z"], "as": ["line", "amp"]},
        {"filter": "isValid(datum.amp)"}
      ],
      "mark": {"type": "line", "interpolate": "monotone", "strokeWidth": 1.6, "clip": true},
      "encoding": {
        "x": {
          "field": "freq", "type": "quantitative",
          "scale": {"domain": [0, 45], "nice": false, "zero": false},
          "axis": {"values": [0, 5, 10, 15, 20, 25, 30, 35, 40, 45], "format": "d", "title": "Frequency [GHz]", "titlePadding": 6}
        },
        "y": {
          "field": "amp", "type": "quantitative",
          "scale": {"domain": [0, 0.045], "nice": false, "zero": false},
          "axis": {"values": [0, 0.005, 0.01, 0.015, 0.02, 0.025, 0.03, 0.035, 0.04, 0.045], "format": "~g", "title": "Amplitude [-]", "titlePadding": 16}
        },
        "color": {
          "field": "line", "type": "nominal", "legend": null,
          "scale": {
            "domain": ["a","b","c","d","e","f","g","h","i","j","k","l","m","n","o","p","q","r","s","t","u","v","w","x","y","z","A","B","C","D","E","F","G","H"],
            "range": ["#0000FF","#00FF00","#FF00FF","#7E2F8E","#77AC30","#A2142F","#4DBEEE","#999999","#8B4A4A","#FF1493","#EDB120","#D95319","#0072BD","#FF6A1A","#FFFF00","#00FF00","#0000FF","#FF00FF","#7E2F8E","#77AC30","#A2142F","#4DBEEE","#999999","#FF1493","#EDB120","#8B4A4A","#2F86C6","#D95319","#FFFF00","#EDB120","#FF6A1A","#4DBEEE","#EDB120","#A0A0A0"]
          }
        }
      }
    },
    {
      "data": {"name": "main"},
      "mark": {"type": "line", "interpolate": "monotone", "strokeWidth": 2.1, "clip": true},
      "encoding": {
        "x": {
          "field": "freq", "type": "quantitative",
          "scale": {"domain": [0, 45], "nice": false, "zero": false},
          "axis": {"values": [0, 5, 10, 15, 20, 25, 30, 35, 40, 45], "format": "d", "title": "Frequency [GHz]", "titlePadding": 6}
        },
        "y": {
          "field": "amp", "type": "quantitative",
          "scale": {"domain": [0, 0.045], "nice": false, "zero": false},
          "axis": {"values": [0, 0.005, 0.01, 0.015, 0.02, 0.025, 0.03, 0.035, 0.04, 0.045], "format": "~g", "title": "Amplitude [-]", "titlePadding": 16}
        },
        "color": {
          "field": "line", "type": "nominal", "legend": null,
          "scale": {
            "domain": ["a","b","c","d","e","f","g","h","i","j","k","l","m","n","o","p","q","r","s","t","u","v","w","x","y","z","A","B","C","D","E","F","G","H"],
            "range": ["#0000FF","#00FF00","#FF00FF","#7E2F8E","#77AC30","#A2142F","#4DBEEE","#999999","#8B4A4A","#FF1493","#EDB120","#D95319","#0072BD","#FF6A1A","#FFFF00","#00FF00","#0000FF","#FF00FF","#7E2F8E","#77AC30","#A2142F","#4DBEEE","#999999","#FF1493","#EDB120","#8B4A4A","#2F86C6","#D95319","#FFFF00","#EDB120","#FF6A1A","#4DBEEE","#EDB120","#A0A0A0"]
          }
        }
      }
    }
  ]
}
